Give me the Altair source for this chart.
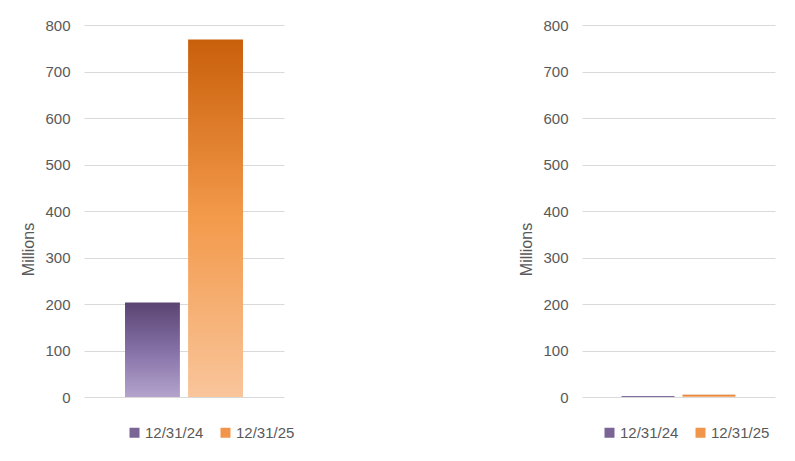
import altair as alt
import pandas as pd

# bar values in millions
series = ["12/31/24", "12/31/25"]
left_values = [203, 769]
right_values = [2, 5]
y_ticks = [0, 100, 200, 300, 400, 500, 600, 700, 800]

purple = alt.Gradient(
    gradient="linear", x1=0, y1=0, x2=0, y2=1,
    stops=[alt.GradientStop(color="#5a4472", offset=0),
           alt.GradientStop(color="#8570a6", offset=0.5),
           alt.GradientStop(color="#b3a3cc", offset=1)],
)
orange = alt.Gradient(
    gradient="linear", x1=0, y1=0, x2=0, y2=1,
    stops=[alt.GradientStop(color="#c95f0b", offset=0),
           alt.GradientStop(color="#f39a4b", offset=0.5),
           alt.GradientStop(color="#f9c59b", offset=1)],
)

grey = "#595959"


def panel(values, width, legend_x):
    data = pd.DataFrame({"date": series, "value": values})
    x = alt.X("date:N", axis=None, sort=series,
              scale=alt.Scale(paddingInner=0.13, paddingOuter=0.65))
    y = alt.Y("value:Q", title="Millions",
              scale=alt.Scale(domain=[0, 800], nice=False),
              axis=alt.Axis(values=y_ticks, domain=False, ticks=False,
                            labelFontSize=15, labelColor=grey, labelPadding=14,
                            titleFontSize=16, titleFontWeight="normal",
                            titleColor=grey, titlePadding=8, titleY=224,
                            gridColor="#d9d9d9"))
    legend_layer = alt.Chart(data).mark_bar(opacity=0).encode(
        x=x, y=y,
        color=alt.Color("date:N",
                        scale=alt.Scale(domain=series, range=["#7a6496", "#f0954a"]),
                        legend=alt.Legend(title=None, orient="none", direction="horizontal",
                                          legendX=legend_x, legendY=400,
                                          symbolType="square", symbolSize=100,
                                          symbolOpacity=1, symbolStrokeWidth=0,
                                          labelFontSize=15, labelColor=grey,
                                          labelOffset=3, columnPadding=14)),
    )
    bars = alt.Chart(data).mark_bar().encode(
        x=x, y=y,
        color=alt.condition(alt.datum.date == series[0], alt.value(purple), alt.value(orange)),
    )
    return alt.layer(legend_layer, bars).properties(width=width, height=372)


chart = (
    alt.hconcat(panel(left_values, 200, 43), panel(right_values, 193, 20), spacing=223)
    .resolve_legend(color="independent")
    .resolve_scale(color="independent")
    .properties(padding={"left": 12, "top": 10, "right": 5, "bottom": 5})
    .configure(font="Liberation Sans")
    .configure_view(stroke=None)
)

chart.save("out.html", embed_options={"renderer": "svg", "actions": False})
